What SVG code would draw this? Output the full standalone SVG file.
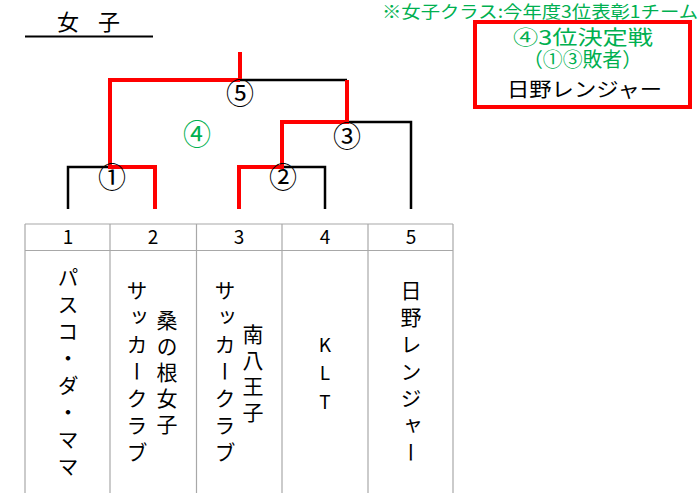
<svg xmlns="http://www.w3.org/2000/svg" width="700" height="493" viewBox="0 0 700 493">
<style>
text{font-family:"Noto Sans CJK JP","DejaVu Sans",sans-serif;fill:#000}
.green{fill:#00b050}
.vt{writing-mode:vertical-rl;font-size:21px}
.num{font-size:19px;text-anchor:middle}
.circ{font-size:28px;text-anchor:middle}
.blk{fill:none;stroke:#000;stroke-width:2.5}
.red{fill:none;stroke:#ff0000;stroke-width:4}
.grid{stroke:#a8a8a8;stroke-width:1.2}
.box{font-size:20px}
</style>
<rect width="700" height="493" fill="#fff"/>
<g id="title">
<text x="68" y="30" font-size="22" text-anchor="middle">女</text>
<text x="109" y="30" font-size="22" text-anchor="middle">子</text>
<line x1="25" y1="36.5" x2="153" y2="36.5" stroke="#000" stroke-width="2"/>
</g>
<g id="note">
<text class="green" x="382" y="18" font-size="17.5" textLength="316" lengthAdjust="spacingAndGlyphs">※女子クラス:今年度3位表彰1チーム</text>
</g>
<g id="third-place-box">
<rect x="475" y="22" width="215" height="85" fill="#fff" stroke="#ff0000" stroke-width="4"/>
<text class="green box" x="513" y="45" textLength="140" lengthAdjust="spacingAndGlyphs">④3位決定戦</text>
<text class="green box" x="523" y="66.5" textLength="119" lengthAdjust="spacingAndGlyphs">（①③敗者）</text>
<text class="box" x="507" y="97" textLength="155" lengthAdjust="spacingAndGlyphs">日野レンジャー</text>
</g>
<g id="table">
<line class="grid" x1="25" y1="224" x2="453" y2="224"/>
<line class="grid" x1="25" y1="250.5" x2="453" y2="250.5"/>
<line class="grid" x1="25" y1="224" x2="25" y2="493"/>
<line class="grid" x1="110" y1="224" x2="110" y2="493"/>
<line class="grid" x1="196.5" y1="224" x2="196.5" y2="493"/>
<line class="grid" x1="282" y1="224" x2="282" y2="493"/>
<line class="grid" x1="368" y1="224" x2="368" y2="493"/>
<line class="grid" x1="453" y1="224" x2="453" y2="493"/>
<text class="num" x="68" y="244">1</text>
<text class="num" x="153" y="244">2</text>
<text class="num" x="239" y="244">3</text>
<text class="num" x="325" y="244">4</text>
<text class="num" x="411" y="244">5</text>
</g>
<g id="team1"><text class="vt" x="68" y="266.5" letter-spacing="6">パスコ・ダ・ママ</text></g>
<g id="team2">
<text class="vt" x="137" y="279.5" letter-spacing="6">サッカークラブ</text>
<text class="vt" x="167" y="309.5" letter-spacing="5">桑の根女子</text>
</g>
<g id="team3">
<text class="vt" x="225" y="279.5" letter-spacing="6">サッカークラブ</text>
<text class="vt" x="253" y="324" letter-spacing="5">南八王子</text>
</g>
<g id="team4">
<text x="325" y="351.5" font-size="19" text-anchor="middle">K</text>
<text x="325" y="379.5" font-size="19" text-anchor="middle">L</text>
<text x="325" y="408.5" font-size="19" text-anchor="middle">T</text>
</g>
<g id="team5"><text class="vt" x="411" y="279.5" letter-spacing="6">日野レンジャー</text></g>
<g id="connectors">
<path class="blk" d="M68,209 V167 H110"/>
<path class="blk" d="M282,167 H325 V209"/>
<path class="blk" d="M347,122 H411 V209"/>
<path class="blk" d="M240,80 H347"/>
<path class="red" d="M155,209 V167 H110 V80 H240"/>
<path class="red" d="M240,80 V52"/>
<path class="red" d="M239,209 V167 H282 V122 H347 V80"/>
</g>
<g id="match-labels">
<text class="circ" x="240" y="104">⑤</text>
<text class="circ green" x="197" y="145">④</text>
<text class="circ" x="347" y="147">③</text>
<text class="circ" x="112" y="188">①</text>
<text class="circ" x="283" y="188">②</text>
</g>
</svg>
